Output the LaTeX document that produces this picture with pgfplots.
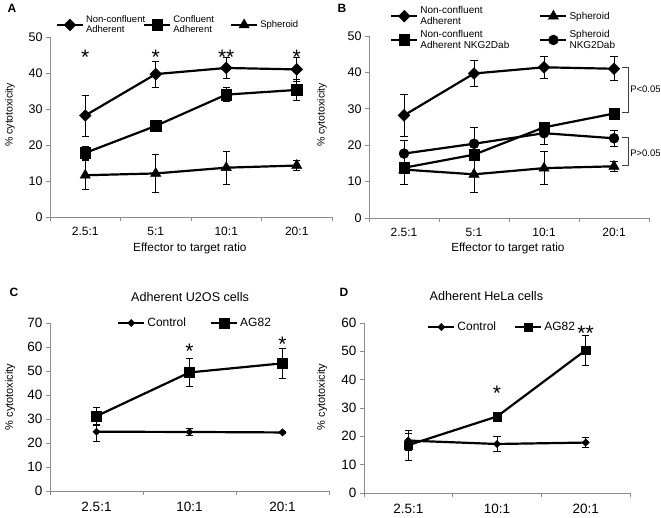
\documentclass[border=0pt]{standalone}
\usepackage{fontspec}
\setmainfont{Liberation Sans}
\usepackage{pgfplots}
\pgfplotsset{compat=1.18}
\definecolor{axgray}{HTML}{8C8C8C}

\pgfplotsset{
  cyto/.style={
    scale only axis, clip=false,
    axis lines=left,
    axis line style={-, draw=axgray, line width=0.8pt},
    xmin=-0.5, ymin=0,
    tick align=outside, major tick length=4pt, minor tick length=4pt,
    tick style={draw=axgray, line width=0.8pt},
    major x tick style={draw=none},
    /pgf/number format/assume math mode=true,
    cycle list={{black}},
    every axis plot/.append style={line width=2.2pt},
    legend image code/.code={
      \draw[mark repeat=2, mark phase=2, #1] plot coordinates {(0pt,0pt) (13pt,0pt) (26pt,0pt)};},
    legend style={draw=none, fill=none, inner sep=0pt,
      cells={anchor=west, align=left, inner xsep=1.5pt},
      font=\fontsize{10}{11}\selectfont},
  },
  errs/.style={
    error bars/.cd, y dir=both, y explicit,
    error bar style={line width=0.8pt, solid},
    error mark options={rotate=90, mark size=3.6pt, line width=0.8pt},
  },
  dia/.style={mark=square*, mark size=4.2pt, mark options={rotate=45, line width=0.4pt}},
  sq/.style={mark=square*, mark size=5.3pt, mark options={line width=0.4pt}},
  tri/.style={mark=triangle*, mark size=6pt, mark options={line width=0.4pt}},
  circ/.style={mark=*, mark size=5pt, mark options={line width=0.4pt}},
}
\newcommand{\sigstar}[3]{\node[font=\fontsize{21}{21}\selectfont, anchor=base, yshift=-12pt, inner sep=0pt] at (axis cs:#1,#2) {#3};}

\begin{document}
\begin{tikzpicture}
\path[use as bounding box] (0pt,0pt) rectangle (661pt,517pt);
\node[font=\bfseries\fontsize{12}{12}\selectfont, anchor=west] at (4pt,509pt) {A};
\node[font=\bfseries\fontsize{12}{12}\selectfont, anchor=west] at (334pt,509pt) {B};
\node[font=\bfseries\fontsize{12}{12}\selectfont, anchor=west] at (6pt,225pt) {C};
\node[font=\bfseries\fontsize{12}{12}\selectfont, anchor=west] at (336pt,225pt) {D};

% ---------------- A
\begin{axis}[cyto,
  at={(50pt,300pt)}, anchor=south west,
  width=282pt, height=180pt,
  xmax=3.5, ymax=50,
  xtick={0,1,2,3}, xticklabels={2.5:1,5:1,10:1,20:1},
  minor xtick={-0.5,0.5,1.5,2.5,3.5},
  ytick={0,10,...,50},
  x tick label style={font=\fontsize{12}{12}\selectfont, yshift=-3pt},
  y tick label style={font=\fontsize{12.5}{13}\selectfont},
  xlabel={Effector to target ratio},
  ylabel={\% cytotoxicity},
  xlabel style={font=\fontsize{11.8}{12}\selectfont, at={(axis description cs:0.496,-0.172)}, anchor=center},
  ylabel style={font=\fontsize{10.5}{12}\selectfont, at={(axis description cs:-0.142,0.567)}, anchor=center},
  legend columns=3,
  legend style={at={(axis description cs:0.02,1.067)}, anchor=west,
    font=\fontsize{9.5}{10.5}\selectfont,
    /tikz/column 2/.style={column sep=-4pt},
    /tikz/column 4/.style={column sep=14pt}},
]
\addplot+[dia, errs] coordinates {
  (0,28.2) +- (0,5.7) (1,39.7) +- (0,3.6) (2,41.4) +- (0,3.0) (3,41.0) +- (0,3.3)};
\addlegendentry{Non-confluent\\Adherent}
\addplot+[sq, errs] coordinates {
  (0,17.8) +- (0,1.8) (1,25.3) +- (0,1.6) (2,34.0) +- (0,1.9) (3,35.3) +- (0,2.9)};
\addlegendentry{Confluent\\Adherent}
\addplot+[tri, errs] coordinates {
  (0,11.6) +- (0,4.0) (1,12.1) +- (0,5.2) (2,13.7) +- (0,4.6) (3,14.3) +- (0,1.4)};
\addlegendentry{Spheroid}
\sigstar{0}{45.8}{*}
\sigstar{1}{45.8}{*}
\sigstar{2}{45.8}{**}
\sigstar{3}{45.8}{*}
\end{axis}

% ---------------- B
\begin{axis}[cyto,
  at={(369pt,299pt)}, anchor=south west,
  width=280pt, height=182pt,
  xmax=3.5, ymax=50,
  xtick={0,1,2,3}, xticklabels={2.5:1,5:1,10:1,20:1},
  minor xtick={-0.5,0.5,1.5,2.5,3.5},
  ytick={0,10,...,50},
  x tick label style={font=\fontsize{12}{12}\selectfont, yshift=-3pt},
  y tick label style={font=\fontsize{12.5}{13}\selectfont},
  xlabel={Effector to target ratio},
  ylabel={\% cytotoxicity},
  xlabel style={font=\fontsize{11.8}{12}\selectfont, at={(axis description cs:0.496,-0.165)}, anchor=center},
  ylabel style={font=\fontsize{10.5}{12}\selectfont, at={(axis description cs:-0.168,0.566)}, anchor=center},
  legend columns=2,
  legend style={at={(axis description cs:0.075,1.175)}, anchor=north west,
    /tikz/column 2/.style={column sep=28pt},
    /tikz/every row/.append style={row sep=4pt}},
]
\addplot+[dia, errs] coordinates {
  (0,28.2) +- (0,5.7) (1,39.7) +- (0,3.6) (2,41.4) +- (0,3.0) (3,41.0) +- (0,3.3)};
\addlegendentry{Non-confluent\\Adherent}
\addplot+[tri, errs] coordinates {
  (0,13.3) +- (0,4.0) (1,12.0) +- (0,5.0) (2,13.7) +- (0,4.6) (3,14.2) +- (0,1.4)};
\addlegendentry{Spheroid}
\addplot+[sq, errs] coordinates {
  (0,13.8) +- (0,1.0) (1,17.4) +- (0,1.0) (2,24.9) +- (0,1.5) (3,28.7) +- (0,0.5)};
\addlegendentry{Non-confluent\\Adherent NKG2Dab}
\addplot+[circ, errs] coordinates {
  (0,17.7) +- (0,3.7) (1,20.4) +- (0,4.6) (2,23.3) +- (0,3.0) (3,21.9) +- (0,2.1)};
\addlegendentry{Spheroid\\NKG2Dab}
\draw[line width=0.7pt, black!75] (axis cs:3.11,41.3) -- (axis cs:3.205,41.3) -- (axis cs:3.205,28.9) -- (axis cs:3.11,28.9);
\draw[line width=0.7pt, black!75] (axis cs:3.11,22.1) -- (axis cs:3.205,22.1) -- (axis cs:3.205,14.4) -- (axis cs:3.11,14.4);
\node[font=\fontsize{9.5}{10}\selectfont, anchor=west, inner sep=1pt] at (axis cs:3.215,35.3) {P<0.05};
\node[font=\fontsize{9.5}{10}\selectfont, anchor=west, inner sep=1pt] at (axis cs:3.215,17.8) {P>0.05};
\end{axis}

% ---------------- C
\begin{axis}[cyto,
  at={(50pt,26pt)}, anchor=south west,
  width=279pt, height=168pt,
  xmax=2.5, ymax=70,
  xtick={0,1,2}, xticklabels={2.5:1,10:1,20:1},
  minor xtick={-0.5,0.5,1.5,2.5},
  ytick={0,10,...,70},
  x tick label style={font=\fontsize{13.5}{14}\selectfont, yshift=-4pt},
  y tick label style={font=\fontsize{13.5}{14}\selectfont},
  ylabel={\% cytotoxicity},
  ylabel style={font=\fontsize{11}{12}\selectfont, at={(axis description cs:-0.143,0.56)}, anchor=center},
  title={Adherent U2OS cells},
  title style={font=\fontsize{12.6}{13}\selectfont, at={(axis description cs:0.502,1.12)}, anchor=center},
  legend columns=2,
  legend style={at={(axis description cs:0.24,1.0)}, anchor=west,
    font=\fontsize{12}{13}\selectfont,
    /tikz/every even column/.append style={column sep=22pt}},
]
\addplot+[dia, mark size=2.6pt, errs] coordinates {
  (0,24.7) += (0,2.5) -= (0,3.9) (1,24.6) +- (0,1.5) (2,24.4) +- (0,0.5)};
\addlegendentry{Control}
\addplot+[sq, mark size=5pt, errs] coordinates {
  (0,31.2) +- (0,3.6) (1,49.4) +- (0,6.0) (2,53.2) +- (0,6.1)};
\addlegendentry{AG82}
\sigstar{1}{60.3}{*}
\sigstar{2}{63.1}{*}
\end{axis}

% ---------------- D
\begin{axis}[cyto,
  at={(364pt,24pt)}, anchor=south west,
  width=266pt, height=170pt,
  xmax=2.5, ymax=60,
  xtick={0,1,2}, xticklabels={2.5:1,10:1,20:1},
  minor xtick={-0.5,0.5,1.5,2.5},
  ytick={0,10,...,60},
  x tick label style={font=\fontsize{13.5}{14}\selectfont, yshift=-4pt},
  y tick label style={font=\fontsize{13.5}{14}\selectfont},
  ylabel={\% cytotoxicity},
  ylabel style={font=\fontsize{11}{12}\selectfont, at={(axis description cs:-0.158,0.565)}, anchor=center},
  title={Adherent HeLa cells},
  title style={font=\fontsize{12.6}{13}\selectfont, at={(axis description cs:0.46,1.125)}, anchor=center},
  legend columns=2,
  legend style={at={(axis description cs:0.237,0.976)}, anchor=west,
    font=\fontsize{12}{13}\selectfont,
    /tikz/every even column/.append style={column sep=16pt}},
]
\addplot+[dia, mark size=2.6pt, errs] coordinates {
  (0,18.5) +- (0,3.5) (1,17.3) +- (0,2.7) (2,17.8) +- (0,1.8)};
\addlegendentry{Control}
\addplot+[sq, mark size=4.2pt, errs] coordinates {
  (0,16.9) += (0,4.2) -= (0,5.3) (1,27.0) +- (0,0.5) (2,50.4) +- (0,5.2)};
\addlegendentry{AG82}
\sigstar{1}{37.0}{*}
\sigstar{2}{58.2}{**}
\end{axis}
\end{tikzpicture}
\end{document}
